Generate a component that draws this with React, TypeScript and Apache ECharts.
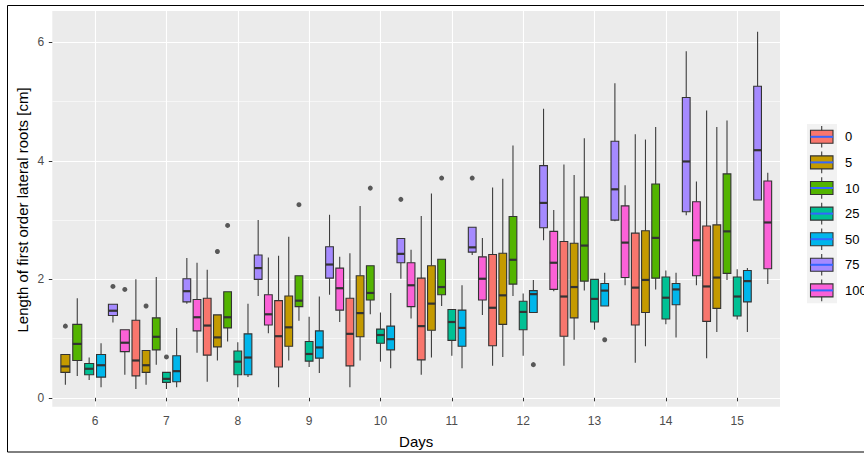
import React, { useEffect, useRef } from "react";
import * as echarts from "echarts";

const days = [6, 7, 8, 9, 10, 11, 12, 13, 14, 15];
const groups = ["0", "5", "10", "25", "50", "75", "100"];
const colors = ["#F8766D", "#C49A00", "#53B400", "#00C094", "#00B6EB", "#A58AFF", "#FB61D7"];
const yTicks = [0, 2, 4, 6];
const yMinorTicks = [1, 3, 5];
const yTitle = "Length of first order lateral roots [cm]";
const xTitle = "Days";

// [lower whisker, Q1, median, Q3, upper whisker] for each day (null = no data)
const stats0 = [
  null,
  [0.15, 0.37, 0.63, 1.31, 2.0],
  [0.27, 0.72, 1.22, 1.68, 2.16],
  [0.18, 0.52, 1.04, 1.64, 2.4],
  [0.18, 0.54, 1.08, 1.68, 2.44],
  [0.39, 0.64, 1.21, 2.02, 3.07],
  [0.54, 0.88, 1.52, 2.42, 3.55],
  [0.54, 1.04, 1.71, 2.64, 3.94],
  [0.59, 1.23, 1.86, 2.78, 4.45],
  [0.67, 1.29, 1.88, 2.9, 4.85],
];
const stats5 = [
  [0.22, 0.43, 0.53, 0.73, 0.73],
  [0.22, 0.43, 0.55, 0.8, 0.8],
  [0.63, 0.86, 1.02, 1.4, 1.4],
  [0.63, 0.87, 1.19, 1.72, 2.72],
  [0.63, 1.03, 1.43, 2.06, 3.24],
  [0.68, 1.14, 1.59, 2.23, 3.45],
  [0.69, 1.24, 1.73, 2.44, 3.7],
  [0.98, 1.35, 1.87, 2.61, 3.76],
  [0.87, 1.44, 1.99, 2.82, 4.36],
  [1.11, 1.51, 2.03, 2.92, 4.57],
];
const stats10 = [
  [0.37, 0.63, 0.91, 1.24, 1.68],
  [0.56, 0.81, 1.03, 1.35, 2.04],
  [0.95, 1.18, 1.36, 1.79, 1.79],
  [1.3, 1.54, 1.64, 2.06, 2.06],
  [1.41, 1.65, 1.77, 2.23, 2.23],
  [1.55, 1.74, 1.87, 2.34, 2.34],
  [1.72, 1.92, 2.33, 3.06, 4.26],
  [1.81, 1.97, 2.57, 3.39, 4.38],
  [1.83, 2.02, 2.7, 3.61, 4.57],
  [1.99, 2.1, 2.81, 3.78, 4.68],
];
const stats25 = [
  [0.3, 0.39, 0.49, 0.58, 0.68],
  [0.15, 0.26, 0.32, 0.43, 0.43],
  [0.18, 0.39, 0.61, 0.79, 0.94],
  [0.52, 0.62, 0.74, 0.95, 1.37],
  [0.61, 0.92, 1.06, 1.16, 1.44],
  [0.71, 0.97, 1.28, 1.49, 1.5],
  [0.71, 1.15, 1.45, 1.63, 1.76],
  [1.15, 1.28, 1.67, 2.0, 2.0],
  [1.24, 1.33, 1.69, 2.04, 2.15],
  [1.32, 1.38, 1.71, 2.04, 2.17],
];
const stats50 = [
  [0.18, 0.35, 0.55, 0.73, 0.92],
  [0.18, 0.27, 0.45, 0.71, 1.18],
  [0.35, 0.39, 0.68, 1.08, 1.59],
  [0.42, 0.67, 0.85, 1.13, 1.71],
  [0.5, 0.81, 0.99, 1.21, 1.77],
  [0.5, 0.87, 1.18, 1.48, 1.9],
  [1.44, 1.44, 1.75, 1.81, 1.99],
  [1.55, 1.55, 1.81, 1.93, 2.11],
  [1.02, 1.57, 1.83, 1.93, 2.11],
  [1.11, 1.62, 1.97, 2.15, 2.19],
];
const stats75 = [
  [1.27, 1.39, 1.47, 1.58, 1.58],
  [1.59, 1.62, 1.8, 2.01, 2.36],
  [1.72, 2.0, 2.19, 2.41, 3.0],
  [1.74, 2.02, 2.25, 2.55, 3.09],
  [2.01, 2.28, 2.43, 2.69, 2.69],
  [2.41, 2.46, 2.54, 2.88, 2.88],
  [2.66, 2.87, 3.29, 3.92, 4.88],
  [2.98, 3.0, 3.52, 4.33, 5.31],
  [3.08, 3.14, 3.99, 5.07, 5.85],
  [3.34, 3.34, 4.18, 5.26, 6.18],
];
const stats100 = [
  [0.39, 0.78, 0.93, 1.15, 1.15],
  [0.76, 1.13, 1.36, 1.66, 2.28],
  [1.09, 1.23, 1.41, 1.74, 2.37],
  [1.28, 1.48, 1.85, 2.19, 2.38],
  [1.34, 1.54, 1.9, 2.28, 2.5],
  [1.4, 1.65, 2.01, 2.38, 2.7],
  [1.8, 1.83, 2.28, 2.81, 3.17],
  [1.9, 2.03, 2.62, 3.24, 3.59],
  [1.9, 2.06, 2.66, 3.31, 3.65],
  [1.92, 2.18, 2.96, 3.66, 3.8],
];

// outliers: [day, value]
const outliers0: number[][] = [];
const outliers5 = [[6, 1.21], [7, 1.55], [8, 2.47]];
const outliers10 = [[8, 2.91], [9, 3.26], [10, 3.54], [11, 3.71]];
const outliers25 = [[7, 0.69]];
const outliers50 = [[12, 0.56], [13, 0.98]];
const outliers75 = [[6, 1.88], [10, 3.35], [11, 3.71]];
const outliers100 = [[6, 1.83]];

const statsByGroup = [stats0, stats5, stats10, stats25, stats50, stats75, stats100];
const outliersByGroup = [outliers0, outliers5, outliers10, outliers25, outliers50, outliers75, outliers100];

const FONT = "'Liberation Sans', Arial, sans-serif";

function slotOf(g: number, d: number) {
  let n = 0;
  let slot = 0;
  statsByGroup.forEach((s, gi) => {
    if (s[d]) {
      if (gi < g) slot++;
      n++;
    }
  });
  return { n, slot };
}

function xPos(g: number, d: number) {
  const { n, slot } = slotOf(g, d);
  return { x: days[d] + (slot - (n - 1) / 2) / n, hw: 0.38 / n };
}

export default function App() {
  const ref = useRef<HTMLDivElement>(null);
  useEffect(() => {
    if (!ref.current) return;
    const chart = echarts.init(ref.current, undefined, { renderer: "svg" });

    const boxSeries = groups.map((name, g) => {
      const data: number[][] = [];
      statsByGroup[g].forEach((s, d) => {
        if (!s) return;
        const p = xPos(g, d);
        data.push([p.x, p.hw, ...s]);
      });
      return {
        type: "custom",
        name,
        data,
        encode: { x: 0, y: [2, 3, 4, 5, 6] },
        renderItem: (params: any, api: any) => {
          const x = api.value(0);
          const hw = api.value(1);
          const lo = api.value(2), q1 = api.value(3), med = api.value(4), q3 = api.value(5), hi = api.value(6);
          const cx = api.coord([x, med])[0];
          const l = api.coord([x - hw, med])[0];
          const r = api.coord([x + hw, med])[0];
          const yLo = api.coord([x, lo])[1];
          const y1 = api.coord([x, q1])[1];
          const yM = api.coord([x, med])[1];
          const y3 = api.coord([x, q3])[1];
          const yHi = api.coord([x, hi])[1];
          const wStyle = { stroke: "#3d3d3d", lineWidth: 1.1 };
          return {
            type: "group",
            children: [
              { type: "line", shape: { x1: cx, y1: yHi, x2: cx, y2: y3 }, style: wStyle },
              { type: "line", shape: { x1: cx, y1: y1, x2: cx, y2: yLo }, style: wStyle },
              {
                type: "rect",
                shape: { x: l, y: y3, width: r - l, height: y1 - y3 },
                style: { fill: colors[g], stroke: "#333333", lineWidth: 1.1, opacity: 1 },
              },
              { type: "line", shape: { x1: l, y1: yM, x2: r, y2: yM }, style: { stroke: "#333333", lineWidth: 2.2 } },
            ],
          };
        },
      };
    });

    const outlierSeries = groups.map((name, g) => ({
      type: "scatter",
      name: name + " outliers",
      symbol: "circle",
      symbolSize: 5,
      itemStyle: { color: "#333333" },
      data: outliersByGroup[g].map(([day, v]) => {
        const d = days.indexOf(day);
        return [xPos(g, d).x, v];
      }),
    }));

    const legendTop = 124;
    const keyH = 25.6;
    const legendGraphics: any[] = [
      { type: "rect", shape: { x: 807, y: legendTop, width: 30, height: keyH * groups.length }, style: { fill: "#F2F2F2" }, silent: true },
    ];
    groups.forEach((name, i) => {
      const cy = legendTop + keyH * (i + 0.5);
      legendGraphics.push(
        { type: "line", shape: { x1: 821.7, y1: cy - keyH / 2 + 2, x2: 821.7, y2: cy + keyH / 2 - 2 }, style: { stroke: "#3d3d3d", lineWidth: 1.1 }, silent: true },
        { type: "rect", shape: { x: 810.5, y: cy - 6.5, width: 22.5, height: 13 }, style: { fill: colors[i], stroke: "#333333", lineWidth: 1.1 }, silent: true },
        { type: "line", shape: { x1: 810.5, y1: cy, x2: 833, y2: cy }, style: { stroke: "#3366FF", lineWidth: 2 }, silent: true },
        { type: "text", x: 845, y: cy, style: { text: name, fill: "#000", font: `13px ${FONT}`, textVerticalAlign: "middle", textAlign: "left" }, silent: true }
      );
    });

    const option: any = {
      animation: false,
      backgroundColor: "#ffffff",
      textStyle: { fontFamily: FONT },
      grid: { left: 52.3, right: 84, top: 11, bottom: 48.3, show: true, backgroundColor: "#EBEBEB", borderWidth: 0 },
      xAxis: {
        type: "value",
        min: 5.4,
        max: 15.6,
        name: xTitle,
        nameLocation: "middle",
        nameGap: 27,
        nameTextStyle: { color: "#000", fontSize: 15, fontFamily: FONT },
        axisLine: { show: false },
        axisTick: { show: true, customValues: days, length: 3.5, lineStyle: { color: "#333333", width: 1 } },
        axisLabel: { customValues: days, color: "#4D4D4D", fontSize: 12, margin: 8, fontFamily: FONT },
        splitLine: { show: true, lineStyle: { color: "#ffffff", width: 1.1 } },
      },
      yAxis: [
        {
          type: "value",
          min: -0.15,
          max: 6.53,
          axisLine: { show: false },
          axisTick: { show: true, customValues: yTicks, length: 3.5, lineStyle: { color: "#333333", width: 1 } },
          axisLabel: { customValues: yTicks, color: "#4D4D4D", fontSize: 12, margin: 8, fontFamily: FONT },
          splitLine: { show: true, lineStyle: { color: "#ffffff", width: 1.1 } },
        },
        {
          type: "value",
          min: -0.15,
          max: 6.53,
          position: "left",
          axisLine: { show: false },
          axisTick: { show: false, customValues: yMinorTicks },
          axisLabel: { show: false, customValues: yMinorTicks },
          splitLine: { show: true, lineStyle: { color: "#ffffff", width: 0.55 } },
        },
      ],
      series: [...boxSeries, ...outlierSeries],
      graphic: [
        ...legendGraphics,
        {
          type: "text",
          x: 22.5,
          y: 210,
          rotation: Math.PI / 2,
          style: { text: yTitle, fill: "#000", font: `15px ${FONT}`, textAlign: "center", textVerticalAlign: "middle" },
          silent: true,
        },
        { type: "rect", shape: { x: 7.5, y: 5.5, width: 900, height: 446.5 }, style: { fill: "none", stroke: "#000", lineWidth: 1 }, silent: true, z: 100 },
      ],
    };
    chart.setOption(option);
    return () => chart.dispose();
  }, []);
  return <div ref={ref} style={{ position: "absolute", left: 0, top: 0, width: 864, height: 455, background: "#fff" }} />;
}
